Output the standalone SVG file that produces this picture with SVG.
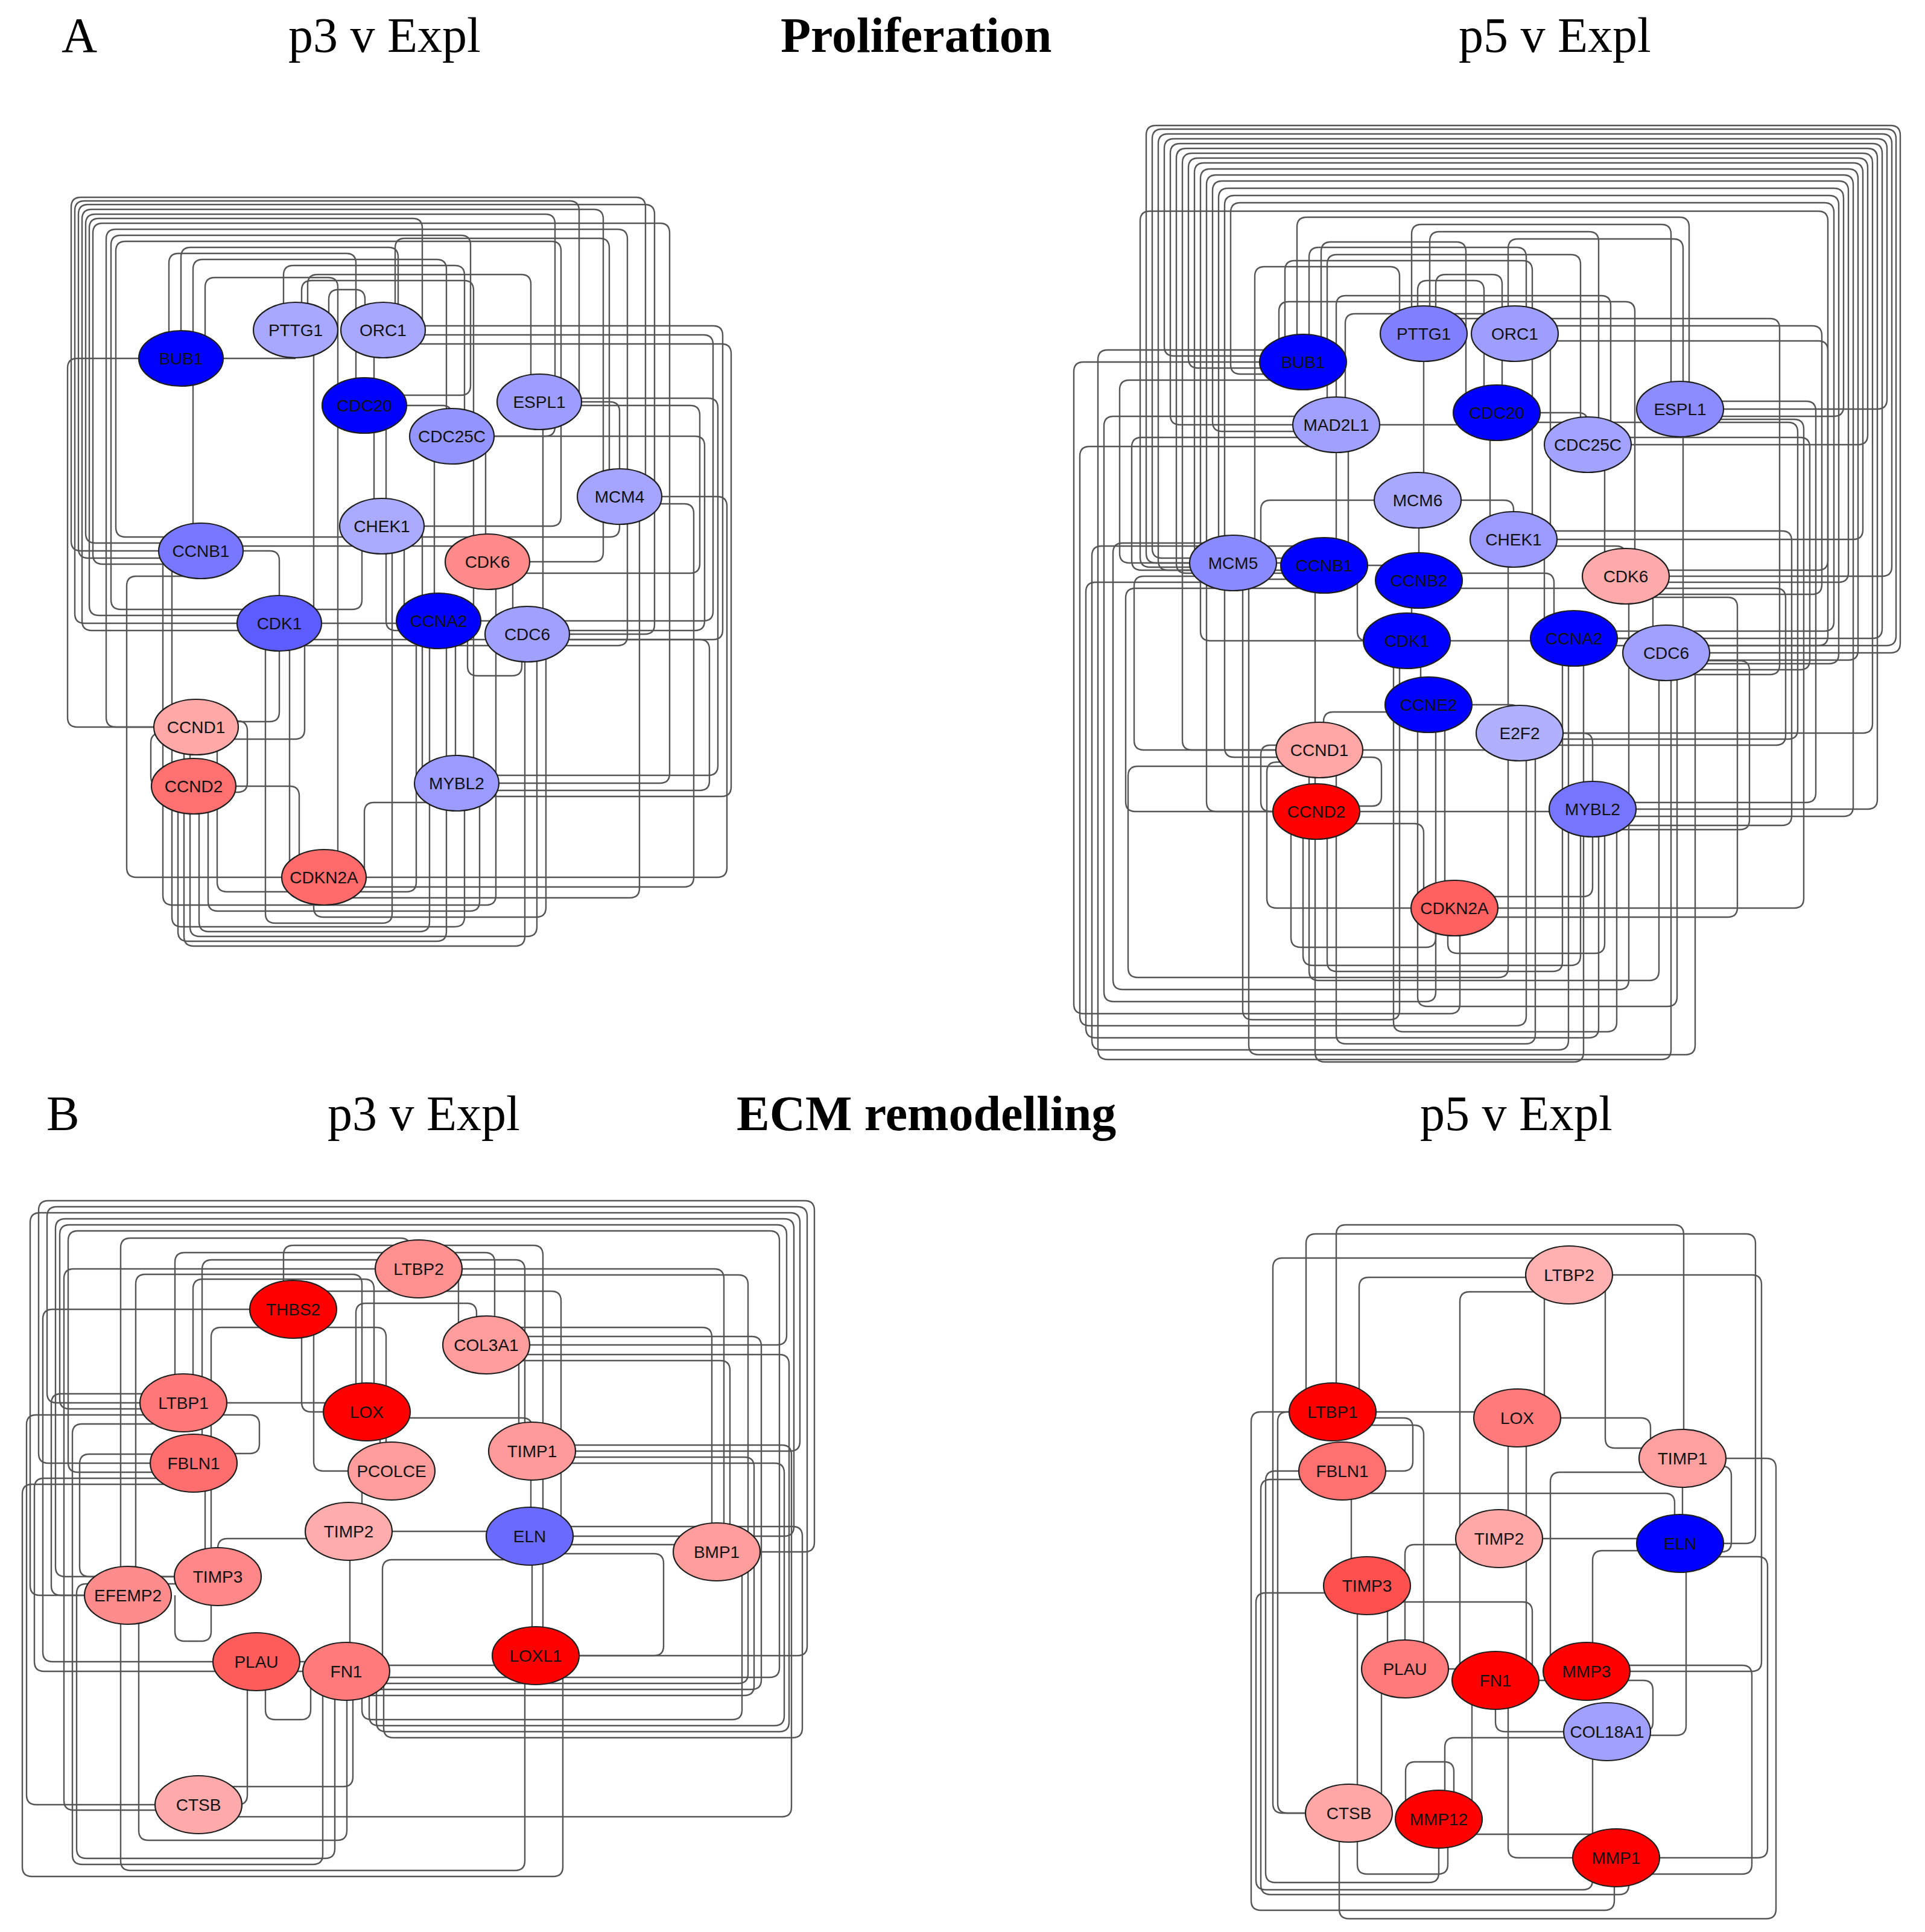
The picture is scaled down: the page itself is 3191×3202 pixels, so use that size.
<svg xmlns="http://www.w3.org/2000/svg" width="3191" height="3202" viewBox="0 0 3191 3202">
<style>
.bg{fill:#ffffff}
.ttl{font-family:"Liberation Serif","Times New Roman",serif;font-size:82px;fill:#000}
.b{font-weight:bold}
.c path{fill:none;stroke:#555;stroke-width:2.4}
.n ellipse{stroke:#1e1e1e;stroke-width:2.2}
.n text{font-family:"Liberation Sans",Arial,sans-serif;font-size:28px;text-anchor:middle;fill:#111}
</style>
<rect class="bg" x="0" y="0" width="3191" height="3202"/>
<g id="titles">
<text class="ttl" x="102" y="86">A</text>
<text class="ttl" x="478" y="86">p3 v Expl</text>
<text class="ttl b" x="1294" y="86">Proliferation</text>
<text class="ttl" x="2418" y="86">p5 v Expl</text>
<text class="ttl" x="77" y="1873">B</text>
<text class="ttl" x="543" y="1873">p3 v Expl</text>
<text class="ttl b" x="1221" y="1873">ECM remodelling</text>
<text class="ttl" x="2354" y="1873">p5 v Expl</text>
</g>
<g id="connectors" class="c">
<g id="edges-prolif-p3">
<path d="M333 913H134q-16 0-16-16V343q0-16 16-16H1054q16 0 16 16V807q0 16-16 16H1027"/>
<path d="M463 1033H140q-16 0-16-16V349q0-16 16-16H944q16 0 16 16V650q0 16-16 16H894"/>
<path d="M333 925H146q-16 0-16-16V355q0-16 16-16H1069q16 0 16 16V1035q0 16-16 16H874"/>
<path d="M463 1045H152q-16 0-16-16V363q0-16 16-16H984q16 0 16 16V915q0 16-16 16H808"/>
<path d="M333 900H158q-16 0-16-16V371q0-16 16-16H904q16 0 16 16V707q0 16-16 16H749"/>
<path d="M463 1020H164q-16 0-16-16V378q0-16 16-16H684q16 0 16 16V531q0 16-16 16H635"/>
<path d="M333 935H170q-16 0-16-16V386q0-16 16-16H1094q16 0 16 16V1282q0 16-16 16H757"/>
<path d="M325 1205H192q-16 0-16-16V396q0-16 16-16H1024q16 0 16 16V1054q0 16-16 16H874"/>
<path d="M463 1010H200q-16 0-16-16V406q0-16 16-16H764q16 0 16 16V639q0 16-16 16H604"/>
<path d="M333 890H208q-16 0-16-16V416q0-16 16-16H914q16 0 16 16V856q0 16-16 16H633"/>
<path d="M300 594V426q0-16 16-16H644q16 0 16 16V547"/>
<path d="M280 594V436q0-16 16-16H574q16 0 16 16V672"/>
<path d="M320 594V446q0-16 16-16H724q16 0 16 16V723"/>
<path d="M470 547V456q0-16 16-16H754q16 0 16 16V723"/>
<path d="M510 547V471q0-16 16-16H864q16 0 16 16V666"/>
<path d="M545 547V496q0-16 16-16H589q16 0 16 16V547"/>
<path d="M655 547V411q0-16 16-16H994q16 0 16 16V823"/>
<path d="M340 594V476q0-16 16-16H544q16 0 16 16V1454"/>
<path d="M500 547V481q0-16 16-16H769q16 0 16 16V1298"/>
<path d="M635 540H1182q16 0 16 16V1044q0 16-16 16H874"/>
<path d="M894 660H1174q16 0 16 16V1269q0 16-16 16H757"/>
<path d="M635 555H1166q16 0 16 16V1013q0 16-16 16H727"/>
<path d="M635 570H1196q16 0 16 16V1304q0 16-16 16H757"/>
<path d="M1027 823H1189q16 0 16 16V1438q0 16-16 16H537"/>
<path d="M749 723H1152q16 0 16 16V1029q0 16-16 16H874"/>
<path d="M894 672H1144q16 0 16 16V934q0 16-16 16H808"/>
<path d="M463 1060H1160q16 0 16 16V1294q0 16-16 16H757"/>
<path d="M1027 835H1134q16 0 16 16V1454q0 16-16 16H537"/>
<path d="M300 594H128q-16 0-16 16V1189q0 16 16 16H325"/>
<path d="M333 955H226q-16 0-16 16V1438q0 16 16 16H537"/>
<path d="M325 1215H266q-16 0-16 16V1287q0 16 16 16H321"/>
<path d="M305 1205V1552q0 16 16 16H854q16 0 16-16V1051"/>
<path d="M295 1303V1544q0 16 16 16H724q16 0 16-16V1029"/>
<path d="M315 1205V1536q0 16 16 16H874q16 0 16-16V1051"/>
<path d="M330 1303V1528q0 16 16 16H696q16 0 16-16V1029"/>
<path d="M285 913V1520q0 16 16 16H754q16 0 16-16V1298"/>
<path d="M520 1454V1504q0 16 16 16H889q16 0 16-16V1051"/>
<path d="M345 1303V1494q0 16 16 16H779q16 0 16-16V1298"/>
<path d="M440 1033V1514q0 16 16 16H634q16 0 16-16V872"/>
<path d="M270 913V1484q0 16 16 16H806q16 0 16-16V931"/>
<path d="M480 1033V1472q0 16 16 16H1044q16 0 16-16V823"/>
<path d="M360 1205V1462q0 16 16 16H674q16 0 16-16V1029"/>
<path d="M463 1033H727"/>
<path d="M333 913H447q16 0 16 16V1033"/>
<path d="M325 1195H394q16 0 16 16V1297q0 16-16 16H321"/>
<path d="M604 672H733q16 0 16 16V723"/>
<path d="M620 547V872"/>
<path d="M805 723V931"/>
<path d="M850 931V1051"/>
<path d="M755 1029V1298"/>
<path d="M670 872V1013q0 16 16 16H727"/>
<path d="M321 1303H480q16 0 16 16V1438q0 16 16 16H537"/>
<path d="M757 1330H620q-16 0-16 16V1454"/>
<path d="M463 1033V1180q0 16-16 16H325"/>
<path d="M505 1033V1209q0 16-16 16H325"/>
<path d="M320 594V913"/>
<path d="M520 547V1033"/>
<path d="M300 594H490"/>
<path d="M333 905H808"/>
<path d="M463 1070H874"/>
<path d="M775 1029V1104q0 16 16 16H849q16 0 16-16V1051"/>
<path d="M333 890H1011q16 0 16-16V823"/>
<path d="M600 872V994q0 16-16 16H463"/>
<path d="M894 666H1011q16 0 16 16V823"/>
<path d="M640 672V1029q0 16 16 16H727"/>
<path d="M900 666V1051"/>
<path d="M700 872V1282q0 16 16 16H757"/>
<path d="M720 723V1029"/>
</g>
<g id="edges-prolif-p5">
<path d="M2044 933H1916q-16 0-16-16V224q0-16 16-16H3134q16 0 16 16V1066q0 16-16 16H2762"/>
<path d="M2195 925H1926q-16 0-16-16V230q0-16 16-16H3127q16 0 16 16V1054q0 16-16 16H2762"/>
<path d="M2044 945H1936q-16 0-16-16V238q0-16 16-16H3120q16 0 16 16V939q0 16-16 16H2695"/>
<path d="M2160 590H1946q-16 0-16-16V246q0-16 16-16H3112q16 0 16 16V662q0 16-16 16H2785"/>
<path d="M2215 704H1956q-16 0-16-16V254q0-16 16-16H3104q16 0 16 16V1042q0 16-16 16H2609"/>
<path d="M2195 950H1966q-16 0-16-16V262q0-16 16-16H3096q16 0 16 16V1325q0 16-16 16H2640"/>
<path d="M2187 1243H1976q-16 0-16-16V270q0-16 16-16H3088q16 0 16 16V1199q0 16-16 16H2519"/>
<path d="M2160 610H1986q-16 0-16-16V278q0-16 16-16H3080q16 0 16 16V721q0 16-16 16H2632"/>
<path d="M2044 921H1996q-16 0-16-16V286q0-16 16-16H3072q16 0 16 16V878q0 16-16 16H2509"/>
<path d="M2332 1062H2006q-16 0-16-16V296q0-16 16-16H3064q16 0 16 16V1078q0 16-16 16H2762"/>
<path d="M2182 1345H2016q-16 0-16-16V306q0-16 16-16H3056q16 0 16 16V1337q0 16-16 16H2640"/>
<path d="M2215 715H2026q-16 0-16-16V316q0-16 16-16H3048q16 0 16 16V949q0 16-16 16H2695"/>
<path d="M2195 960H2036q-16 0-16-16V328q0-16 16-16H3040q16 0 16 16V674q0 16-16 16H2785"/>
<path d="M2187 1255H2046q-16 0-16-16V340q0-16 16-16H3032q16 0 16 16V1084q0 16-16 16H2762"/>
<path d="M2160 620H2056q-16 0-16-16V352q0-16 16-16H3024q16 0 16 16V1030q0 16-16 16H2609"/>
<path d="M2044 940H1906q-16 0-16-16V366q0-16 16-16H3014q16 0 16 16V929q0 16-16 16H2695"/>
<path d="M2150 600V376q0-16 16-16H2784q16 0 16 16V678"/>
<path d="M2340 553V388q0-16 16-16H2754q16 0 16 16V678"/>
<path d="M2370 553V400q0-16 16-16H2634q16 0 16 16V737"/>
<path d="M2500 553V412q0-16 16-16H2774q16 0 16 16V1082"/>
<path d="M2190 600V417q0-16 16-16H2414q16 0 16 16V684"/>
<path d="M2170 600V426q0-16 16-16H2514q16 0 16 16V553"/>
<path d="M2200 704V438q0-16 16-16H2604q16 0 16 16V737"/>
<path d="M2380 553V471q0-16 16-16H2474q16 0 16 16V553"/>
<path d="M2350 553V481q0-16 16-16H2444q16 0 16 16V684"/>
<path d="M2130 600V448q0-16 16-16H2524q16 0 16 16V894"/>
<path d="M2080 933V458q0-16 16-16H2304q16 0 16 16V553"/>
<path d="M2215 937V506q0-16 16-16H2654q16 0 16 16V737"/>
<path d="M2120 600V516q0-16 16-16H2694q16 0 16 16V955"/>
<path d="M2230 704V536q0-16 16-16H2554q16 0 16 16V894"/>
<path d="M2160 600H1796q-16 0-16 16V1664q0 16 16 16H2404q16 0 16-16V1505"/>
<path d="M2215 740H1806q-16 0-16 16V1684q0 16 16 16H2514q16 0 16-16V1215"/>
<path d="M2044 965H1816q-16 0-16 16V1704q0 16 16 16H2634q16 0 16-16V1341"/>
<path d="M2195 905H1826q-16 0-16 16V1724q0 16 16 16H2584q16 0 16-16V1058"/>
<path d="M2160 580H1836q-16 0-16 16V1740q0 16 16 16H2754q16 0 16-16V1082"/>
<path d="M2215 690H1846q-16 0-16 16V1644q0 16 16 16H2364q16 0 16-16V1168"/>
<path d="M2044 900H1861q-16 0-16 16V1624q0 16 16 16H2684q16 0 16-16V955"/>
<path d="M2187 1270H1886q-16 0-16 16V1604q0 16 16 16H2484q16 0 16-16V894"/>
<path d="M2044 955H1896q-16 0-16 16V1227q0 16 16 16H2187"/>
<path d="M2195 975H1882q-16 0-16 16V1329q0 16 16 16H2182"/>
<path d="M2160 630H1872q-16 0-16 16V917q0 16 16 16H2044"/>
<path d="M2215 725H1892q-16 0-16 16V929q0 16 16 16H2195"/>
<path d="M2785 665H2994q16 0 16 16V1314q0 16-16 16H2640"/>
<path d="M2632 725H2984q16 0 16 16V1094q0 16-16 16H2762"/>
<path d="M2511 540H3004q16 0 16 16V969q0 16-16 16H2695"/>
<path d="M2785 695H2974q16 0 16 16V1489q0 16-16 16H2411"/>
<path d="M2481 700H2964q16 0 16 16V1209q0 16-16 16H2519"/>
<path d="M2509 880H2954q16 0 16 16V1352q0 16-16 16H2640"/>
<path d="M2695 975H2944q16 0 16 16V1219q0 16-16 16H2519"/>
<path d="M2511 565H3014q16 0 16 16V1054q0 16-16 16H2609"/>
<path d="M2360 528H2934q16 0 16 16V1102q0 16-16 16H2762"/>
<path d="M2762 1095H2884q16 0 16 16V1359q0 16-16 16H2640"/>
<path d="M2695 990H2864q16 0 16 16V1504q0 16-16 16H2411"/>
<path d="M2160 1345V1584q0 16 16 16H2604q16 0 16-16V1341"/>
<path d="M2200 1345V1594q0 16 16 16H2574q16 0 16-16V1058"/>
<path d="M2170 1243V1609q0 16 16 16H2734q16 0 16-16V1082"/>
<path d="M2350 1168V1652q0 16 16 16H2764q16 0 16-16V1082"/>
<path d="M2400 1505V1564q0 16 16 16H2644q16 0 16-16V1341"/>
<path d="M2140 1345V1554q0 16 16 16H2364q16 0 16-16V1505"/>
<path d="M2060 933V1674q0 16 16 16H2304q16 0 16-16V1062"/>
<path d="M2310 1062V1694q0 16 16 16H2664q16 0 16-16V1341"/>
<path d="M2215 1243V1714q0 16 16 16H2529q16 0 16-16V1215"/>
<path d="M2070 933V1732q0 16 16 16H2794q16 0 16-16V1082"/>
<path d="M2180 937V1744q0 16 16 16H2609q16 0 16-16V1058"/>
<path d="M2481 684H2616q16 0 16 16V737"/>
<path d="M2490 553V684"/>
<path d="M2350 829H2493q16 0 16 16V894"/>
<path d="M2195 937H2352"/>
<path d="M2340 962V1062"/>
<path d="M2355 1062V1168"/>
<path d="M2332 1062H2609"/>
<path d="M2609 1058H2762"/>
<path d="M2368 1168H2503q16 0 16 16V1215"/>
<path d="M2187 1235H2106q-16 0-16 16V1329q0 16 16 16H2182"/>
<path d="M2187 1255H2274q16 0 16 16V1320q0 16-16 16H2182"/>
<path d="M2182 1365H2344q16 0 16 16V1505"/>
<path d="M2411 1505H2116q-16 0-16-16V1279q0-16 16-16H2187"/>
<path d="M2509 905H2679q16 0 16 16V955"/>
<path d="M2660 737V955"/>
<path d="M2740 955V1082"/>
<path d="M2235 704V937"/>
<path d="M2352 829V962"/>
<path d="M2360 553V829"/>
<path d="M2044 933H2195"/>
<path d="M2250 937V1046q0 16 16 16H2332"/>
<path d="M2519 1215H2624q16 0 16 16V1341"/>
<path d="M2560 894V1058"/>
<path d="M2470 684V894"/>
<path d="M2215 704H2481"/>
<path d="M2090 933V845q0-16 16-16H2350"/>
<path d="M2368 1180H2210q-16 0-16 16V1243"/>
<path d="M2352 975H2695"/>
<path d="M2187 1243H2519"/>
<path d="M2182 1345H2640"/>
<path d="M2640 1341V1470q0 16-16 16H2411"/>
<path d="M2395 1168V1505"/>
<path d="M2352 950H2560q16 0 16 16V1058"/>
</g>
<g id="edges-ecm-p3">
<path d="M321 2425H80q-16 0-16-16V2006q0-16 16-16H1334q16 0 16 16V2556q0 16-16 16H1188"/>
<path d="M304 2325H94q-16 0-16-16V2016q0-16 16-16H1322q16 0 16 16V2728q0 16-16 16H888"/>
<path d="M212 2644H66q-16 0-16-16V2026q0-16 16-16H1310q16 0 16 16V2389q0 16-16 16H882"/>
<path d="M361 2613H108q-16 0-16-16V2036q0-16 16-16H1300q16 0 16 16V2530q0 16-16 16H878"/>
<path d="M304 2335H115q-16 0-16-16V2046q0-16 16-16H1288q16 0 16 16V2213q0 16-16 16H806"/>
<path d="M321 2440H129q-16 0-16-16V2056q0-16 16-16H1276q16 0 16 16V2764q0 16-16 16H574"/>
<path d="M200 2644V2068q0-16 16-16H664q16 0 16 16V2103"/>
<path d="M470 2170V2080q0-16 16-16H884q16 0 16 16V2744"/>
<path d="M290 2325V2092q0-16 16-16H804q16 0 16 16V2229"/>
<path d="M335 2425V2104q0-16 16-16H854q16 0 16 16V2405"/>
<path d="M320 2325V2136q0-16 16-16H604q16 0 16 16V2340"/>
<path d="M500 2170V2156q0-16 16-16H914q16 0 16 16V2546"/>
<path d="M694 2103H1184q16 0 16 16V2572"/>
<path d="M806 2200H1164q16 0 16 16V2572"/>
<path d="M590 2340V2176q0-16 16-16H774q16 0 16 16V2229"/>
<path d="M225 2644V2128q0-16 16-16H584q16 0 16 16V2340"/>
<path d="M350 2613V2216q0-16 16-16H624q16 0 16 16V2438"/>
<path d="M304 2345H60q-16 0-16 16V2975q0 16 16 16H329"/>
<path d="M321 2450H73q-16 0-16 16V2754q0 16 16 16H574"/>
<path d="M486 2170H87q-16 0-16 16V2738q0 16 16 16H425"/>
<path d="M304 2310H101q-16 0-16 16V2628q0 16 16 16H212"/>
<path d="M321 2410H148q-16 0-16 16V2597q0 16 16 16H361"/>
<path d="M694 2103H122q-16 0-16 16V2984q0 16 16 16H329"/>
<path d="M200 2644V3084q0 16 16 16H854q16 0 16-16V2744"/>
<path d="M321 2460H53q-16 0-16 16V3094q0 16 16 16H917q16 0 16-16V2744"/>
<path d="M304 2360H136q-16 0-16 16V3074q0 16 16 16H519q16 0 16-16V2770"/>
<path d="M361 2625H143q-16 0-16 16V3064q0 16 16 16H539q16 0 16-16V2770"/>
<path d="M230 2644V3034q0 16 16 16H559q16 0 16-16V2770"/>
<path d="M440 2754V2834q0 16 16 16H499q16 0 16-16V2770"/>
<path d="M806 2215H1246q16 0 16 16V2784q0 16-16 16H574"/>
<path d="M882 2415H1234q16 0 16 16V2794q0 16-16 16H574"/>
<path d="M694 2113H1224q16 0 16 16V2774q0 16-16 16H574"/>
<path d="M878 2575H1084q16 0 16 16V2728q0 16-16 16H888"/>
<path d="M882 2395H1296q16 0 16 16V2995q0 16-16 16H329"/>
<path d="M806 2255H1194q16 0 16 16V2556q0 16-16 16H1188"/>
<path d="M600 2770V2834q0 16 16 16H1214q16 0 16-16V2572"/>
<path d="M612 2770V2844q0 16 16 16H1284q16 0 16-16V2441q0-16-16-16H882"/>
<path d="M624 2770V2854q0 16 16 16H1292q16 0 16-16V2261q0-16-16-16H806"/>
<path d="M636 2770V2864q0 16 16 16H1314q16 0 16-16V2546q0-16-16-16H878"/>
<path d="M880 2405V2546"/>
<path d="M882 2546V2744"/>
<path d="M304 2345H414q16 0 16 16V2393q0 16-16 16H321"/>
<path d="M630 2340V2438"/>
<path d="M600 2438V2538"/>
<path d="M500 2170V2324q0 16 16 16H608"/>
<path d="M304 2325H608"/>
<path d="M578 2538H878"/>
<path d="M878 2560H1188"/>
<path d="M425 2754H574"/>
<path d="M410 2754V2975q0 16-16 16H329"/>
<path d="M585 2770V2945q0 16-16 16H329"/>
<path d="M290 2644V2704q0 16 16 16H334q16 0 16-16V2613"/>
<path d="M340 2425V2613"/>
<path d="M608 2350H866q16 0 16 16V2405"/>
<path d="M860 2229V2405"/>
<path d="M760 2103V2229"/>
<path d="M520 2170V2422q0 16 16 16H649"/>
<path d="M580 2538V2770"/>
<path d="M878 2585H650q-16 0-16 16V2770"/>
<path d="M574 2760H888"/>
<path d="M578 2550H377q-16 0-16 16V2613"/>
</g>
<g id="edges-ecm-p5">
<path d="M2215 2340V2046q0-16 16-16H2775q16 0 16 16V2417"/>
<path d="M2165 2340V2061q0-16 16-16H2894q16 0 16 16V2542q0 16-16 16H2785"/>
<path d="M2601 2085H2126q-16 0-16 16V2989q0 16 16 16H2236"/>
<path d="M2601 2113H2904q16 0 16 16V2754q0 16-16 16H2630"/>
<path d="M2253 2340V2133q0-16 16-16H2601"/>
<path d="M2420 2785V2157q0-16 16-16H2601"/>
<path d="M2661 2113V2384q0 16 16 16H2789"/>
<path d="M2500 2350V2550"/>
<path d="M2530 2350V2785"/>
<path d="M2209 2340H2515"/>
<path d="M2560 2113V2350"/>
<path d="M2789 2417V2558"/>
<path d="M2789 2430H2854q16 0 16 16V2556q0 16-16 16H2785"/>
<path d="M2225 2438H2114q-16 0-16 16V3104q0 16 16 16H2369q16 0 16-16V3015"/>
<path d="M2209 2340H2090q-16 0-16 16V3150q0 16 16 16H2660q16 0 16-16V3079"/>
<path d="M2250 2628V3005"/>
<path d="M2300 2628V2766"/>
<path d="M2240 2438V2628"/>
<path d="M2329 2766H2479"/>
<path d="M2479 2785H2630"/>
<path d="M2630 2785H2724q16 0 16 16V2854q0 16-16 16H2664"/>
<path d="M2479 2805V2854q0 16 16 16H2664"/>
<path d="M2500 2785V3063q0 16 16 16H2679"/>
<path d="M2440 2785V2999q0 16-16 16H2385"/>
<path d="M2330 3005V2936q0-16 16-16H2394q16 0 16 16V3015"/>
<path d="M2250 3005V3090q0 16 16 16H2384q16 0 16-16V3015"/>
<path d="M2785 2570H2656q-16 0-16 16V2770"/>
<path d="M2785 2580H2914q16 0 16 16V3063q0 16-16 16H2679"/>
<path d="M2485 2560H2345q-16 0-16 16V2766"/>
<path d="M2485 2550H2785"/>
<path d="M2789 2440H2586q-16 0-16 16V2754q0 16 16 16H2630"/>
<path d="M2515 2350H2720q16 0 16 16V2417"/>
<path d="M2209 2350H2326q16 0 16 16V2422q0 16-16 16H2225"/>
<path d="M2209 2362H2344q16 0 16 16V2766"/>
<path d="M2225 2452H2106q-16 0-16 16V3124q0 16 16 16H2684q16 0 16-16V3079"/>
<path d="M2266 2640H2098q-16 0-16 16V3116q0 16 16 16H2624q16 0 16-16V2870"/>
<path d="M2220 3005V3164q0 16 16 16H2928q16 0 16-16V2433q0-16-16-16H2789"/>
<path d="M2236 3005H2134q-16 0-16-16V2356q0-16 16-16H2209"/>
<path d="M2630 2760H2888q16 0 16 16V3090q0 16-16 16H2679"/>
<path d="M2664 2880H2411q-16 0-16 16V3015"/>
<path d="M2225 2475H2760q16 0 16 16V2558"/>
<path d="M2266 2655H2524q16 0 16 16V2785"/>
<path d="M2290 2766V3005"/>
<path d="M2385 3040H2679"/>
<path d="M2795 2558V2860q0 16-16 16H2664"/>
</g>
</g>
<g id="nodes">
<g id="p3-PTTG1" class="n"><ellipse cx="490" cy="547" rx="70" ry="46" fill="#A8A8FF"/><text x="490" y="557">PTTG1</text></g>
<g id="p3-ORC1" class="n"><ellipse cx="635" cy="547" rx="70" ry="46" fill="#A8A8FF"/><text x="635" y="557">ORC1</text></g>
<g id="p3-BUB1" class="n"><ellipse cx="300" cy="594" rx="70" ry="46" fill="#0000FF"/><text x="300" y="604">BUB1</text></g>
<g id="p3-CDC20" class="n"><ellipse cx="604" cy="672" rx="70" ry="46" fill="#0000FF"/><text x="604" y="682">CDC20</text></g>
<g id="p3-ESPL1" class="n"><ellipse cx="894" cy="666" rx="70" ry="46" fill="#9D9DFF"/><text x="894" y="676">ESPL1</text></g>
<g id="p3-CDC25C" class="n"><ellipse cx="749" cy="723" rx="70" ry="46" fill="#9494FF"/><text x="749" y="733">CDC25C</text></g>
<g id="p3-MCM4" class="n"><ellipse cx="1027" cy="823" rx="70" ry="46" fill="#A5A5FF"/><text x="1027" y="833">MCM4</text></g>
<g id="p3-CHEK1" class="n"><ellipse cx="633" cy="872" rx="70" ry="46" fill="#AAAAFF"/><text x="633" y="882">CHEK1</text></g>
<g id="p3-CCNB1" class="n"><ellipse cx="333" cy="913" rx="70" ry="46" fill="#7878FF"/><text x="333" y="923">CCNB1</text></g>
<g id="p3-CDK6" class="n"><ellipse cx="808" cy="931" rx="70" ry="46" fill="#FF8A8A"/><text x="808" y="941">CDK6</text></g>
<g id="p3-CDK1" class="n"><ellipse cx="463" cy="1033" rx="70" ry="46" fill="#5C5CFF"/><text x="463" y="1043">CDK1</text></g>
<g id="p3-CCNA2" class="n"><ellipse cx="727" cy="1029" rx="70" ry="46" fill="#0000FF"/><text x="727" y="1039">CCNA2</text></g>
<g id="p3-CDC6" class="n"><ellipse cx="874" cy="1051" rx="70" ry="46" fill="#A0A0FF"/><text x="874" y="1061">CDC6</text></g>
<g id="p3-CCND1" class="n"><ellipse cx="325" cy="1205" rx="70" ry="46" fill="#FFA8A8"/><text x="325" y="1215">CCND1</text></g>
<g id="p3-CCND2" class="n"><ellipse cx="321" cy="1303" rx="70" ry="46" fill="#FF7070"/><text x="321" y="1313">CCND2</text></g>
<g id="p3-MYBL2" class="n"><ellipse cx="757" cy="1298" rx="70" ry="46" fill="#9A9AFF"/><text x="757" y="1308">MYBL2</text></g>
<g id="p3-CDKN2A" class="n"><ellipse cx="537" cy="1454" rx="70" ry="46" fill="#FF6A6A"/><text x="537" y="1464">CDKN2A</text></g>

<g id="p5-PTTG1" class="n"><ellipse cx="2360" cy="553" rx="72" ry="46" fill="#8080FF"/><text x="2360" y="563">PTTG1</text></g>
<g id="p5-ORC1" class="n"><ellipse cx="2511" cy="553" rx="72" ry="46" fill="#9E9EFF"/><text x="2511" y="563">ORC1</text></g>
<g id="p5-BUB1" class="n"><ellipse cx="2160" cy="600" rx="72" ry="46" fill="#0000FF"/><text x="2160" y="610">BUB1</text></g>
<g id="p5-MAD2L1" class="n"><ellipse cx="2215" cy="704" rx="72" ry="46" fill="#A0A0FF"/><text x="2215" y="714">MAD2L1</text></g>
<g id="p5-CDC20" class="n"><ellipse cx="2481" cy="684" rx="72" ry="46" fill="#0000FF"/><text x="2481" y="694">CDC20</text></g>
<g id="p5-ESPL1" class="n"><ellipse cx="2785" cy="678" rx="72" ry="46" fill="#8C8CFF"/><text x="2785" y="688">ESPL1</text></g>
<g id="p5-CDC25C" class="n"><ellipse cx="2632" cy="737" rx="72" ry="46" fill="#A2A2FF"/><text x="2632" y="747">CDC25C</text></g>
<g id="p5-MCM6" class="n"><ellipse cx="2350" cy="829" rx="72" ry="46" fill="#A8A8FF"/><text x="2350" y="839">MCM6</text></g>
<g id="p5-CHEK1" class="n"><ellipse cx="2509" cy="894" rx="72" ry="46" fill="#9A9AFF"/><text x="2509" y="904">CHEK1</text></g>
<g id="p5-MCM5" class="n"><ellipse cx="2044" cy="933" rx="72" ry="46" fill="#8A8AFF"/><text x="2044" y="943">MCM5</text></g>
<g id="p5-CCNB1" class="n"><ellipse cx="2195" cy="937" rx="72" ry="46" fill="#0000FF"/><text x="2195" y="947">CCNB1</text></g>
<g id="p5-CCNB2" class="n"><ellipse cx="2352" cy="962" rx="72" ry="46" fill="#0000FF"/><text x="2352" y="972">CCNB2</text></g>
<g id="p5-CDK6" class="n"><ellipse cx="2695" cy="955" rx="72" ry="46" fill="#FFAAAA"/><text x="2695" y="965">CDK6</text></g>
<g id="p5-CDK1" class="n"><ellipse cx="2332" cy="1062" rx="72" ry="46" fill="#0000FF"/><text x="2332" y="1072">CDK1</text></g>
<g id="p5-CCNA2" class="n"><ellipse cx="2609" cy="1058" rx="72" ry="46" fill="#0000FF"/><text x="2609" y="1068">CCNA2</text></g>
<g id="p5-CDC6" class="n"><ellipse cx="2762" cy="1082" rx="72" ry="46" fill="#A0A0FF"/><text x="2762" y="1092">CDC6</text></g>
<g id="p5-CCNE2" class="n"><ellipse cx="2368" cy="1168" rx="72" ry="46" fill="#0000FF"/><text x="2368" y="1178">CCNE2</text></g>
<g id="p5-E2F2" class="n"><ellipse cx="2519" cy="1215" rx="72" ry="46" fill="#B0B0FF"/><text x="2519" y="1225">E2F2</text></g>
<g id="p5-CCND1" class="n"><ellipse cx="2187" cy="1243" rx="72" ry="46" fill="#FFA6A6"/><text x="2187" y="1253">CCND1</text></g>
<g id="p5-CCND2" class="n"><ellipse cx="2182" cy="1345" rx="72" ry="46" fill="#FF0000"/><text x="2182" y="1355">CCND2</text></g>
<g id="p5-MYBL2" class="n"><ellipse cx="2640" cy="1341" rx="72" ry="46" fill="#7575FF"/><text x="2640" y="1351">MYBL2</text></g>
<g id="p5-CDKN2A" class="n"><ellipse cx="2411" cy="1505" rx="72" ry="46" fill="#FF6060"/><text x="2411" y="1515">CDKN2A</text></g>

<g id="ecm3-LTBP2" class="n"><ellipse cx="694" cy="2103" rx="72" ry="48" fill="#FF9090"/><text x="694" y="2113">LTBP2</text></g>
<g id="ecm3-THBS2" class="n"><ellipse cx="486" cy="2170" rx="72" ry="48" fill="#FF0000"/><text x="486" y="2180">THBS2</text></g>
<g id="ecm3-COL3A1" class="n"><ellipse cx="806" cy="2229" rx="72" ry="48" fill="#FF9C9C"/><text x="806" y="2239">COL3A1</text></g>
<g id="ecm3-LTBP1" class="n"><ellipse cx="304" cy="2325" rx="72" ry="48" fill="#FF7878"/><text x="304" y="2335">LTBP1</text></g>
<g id="ecm3-LOX" class="n"><ellipse cx="608" cy="2340" rx="72" ry="48" fill="#FF0000"/><text x="608" y="2350">LOX</text></g>
<g id="ecm3-TIMP1" class="n"><ellipse cx="882" cy="2405" rx="72" ry="48" fill="#FF9A9A"/><text x="882" y="2415">TIMP1</text></g>
<g id="ecm3-FBLN1" class="n"><ellipse cx="321" cy="2425" rx="72" ry="48" fill="#FF6E6E"/><text x="321" y="2435">FBLN1</text></g>
<g id="ecm3-PCOLCE" class="n"><ellipse cx="649" cy="2438" rx="72" ry="48" fill="#FF9C9C"/><text x="649" y="2448">PCOLCE</text></g>
<g id="ecm3-TIMP2" class="n"><ellipse cx="578" cy="2538" rx="72" ry="48" fill="#FFACAC"/><text x="578" y="2548">TIMP2</text></g>
<g id="ecm3-ELN" class="n"><ellipse cx="878" cy="2546" rx="72" ry="48" fill="#6A6AFF"/><text x="878" y="2556">ELN</text></g>
<g id="ecm3-BMP1" class="n"><ellipse cx="1188" cy="2572" rx="72" ry="48" fill="#FF9C9C"/><text x="1188" y="2582">BMP1</text></g>
<g id="ecm3-TIMP3" class="n"><ellipse cx="361" cy="2613" rx="72" ry="48" fill="#FF8787"/><text x="361" y="2623">TIMP3</text></g>
<g id="ecm3-EFEMP2" class="n"><ellipse cx="212" cy="2644" rx="72" ry="48" fill="#FF8C8C"/><text x="212" y="2654">EFEMP2</text></g>
<g id="ecm3-PLAU" class="n"><ellipse cx="425" cy="2754" rx="72" ry="48" fill="#FF5C5C"/><text x="425" y="2764">PLAU</text></g>
<g id="ecm3-FN1" class="n"><ellipse cx="574" cy="2770" rx="72" ry="48" fill="#FF7A7A"/><text x="574" y="2780">FN1</text></g>
<g id="ecm3-LOXL1" class="n"><ellipse cx="888" cy="2744" rx="72" ry="48" fill="#FF0000"/><text x="888" y="2754">LOXL1</text></g>
<g id="ecm3-CTSB" class="n"><ellipse cx="329" cy="2991" rx="72" ry="48" fill="#FFAAAA"/><text x="329" y="3001">CTSB</text></g>

<g id="ecm5-LTBP2" class="n"><ellipse cx="2601" cy="2113" rx="72" ry="48" fill="#FFB0B0"/><text x="2601" y="2123">LTBP2</text></g>
<g id="ecm5-LTBP1" class="n"><ellipse cx="2209" cy="2340" rx="72" ry="48" fill="#FF0000"/><text x="2209" y="2350">LTBP1</text></g>
<g id="ecm5-LOX" class="n"><ellipse cx="2515" cy="2350" rx="72" ry="48" fill="#FF7A7A"/><text x="2515" y="2360">LOX</text></g>
<g id="ecm5-TIMP1" class="n"><ellipse cx="2789" cy="2417" rx="72" ry="48" fill="#FFA0A0"/><text x="2789" y="2427">TIMP1</text></g>
<g id="ecm5-FBLN1" class="n"><ellipse cx="2225" cy="2438" rx="72" ry="48" fill="#FF7070"/><text x="2225" y="2448">FBLN1</text></g>
<g id="ecm5-TIMP2" class="n"><ellipse cx="2485" cy="2550" rx="72" ry="48" fill="#FFA8A8"/><text x="2485" y="2560">TIMP2</text></g>
<g id="ecm5-ELN" class="n"><ellipse cx="2785" cy="2558" rx="72" ry="48" fill="#0000FF"/><text x="2785" y="2568">ELN</text></g>
<g id="ecm5-TIMP3" class="n"><ellipse cx="2266" cy="2628" rx="72" ry="48" fill="#FF5050"/><text x="2266" y="2638">TIMP3</text></g>
<g id="ecm5-PLAU" class="n"><ellipse cx="2329" cy="2766" rx="72" ry="48" fill="#FF7A7A"/><text x="2329" y="2776">PLAU</text></g>
<g id="ecm5-FN1" class="n"><ellipse cx="2479" cy="2785" rx="72" ry="48" fill="#FF0000"/><text x="2479" y="2795">FN1</text></g>
<g id="ecm5-MMP3" class="n"><ellipse cx="2630" cy="2770" rx="72" ry="48" fill="#FF0000"/><text x="2630" y="2780">MMP3</text></g>
<g id="ecm5-COL18A1" class="n"><ellipse cx="2664" cy="2870" rx="72" ry="48" fill="#A0A0FF"/><text x="2664" y="2880">COL18A1</text></g>
<g id="ecm5-CTSB" class="n"><ellipse cx="2236" cy="3005" rx="72" ry="48" fill="#FFA6A6"/><text x="2236" y="3015">CTSB</text></g>
<g id="ecm5-MMP12" class="n"><ellipse cx="2385" cy="3015" rx="72" ry="48" fill="#FF0000"/><text x="2385" y="3025">MMP12</text></g>
<g id="ecm5-MMP1" class="n"><ellipse cx="2679" cy="3079" rx="72" ry="48" fill="#FF0000"/><text x="2679" y="3089">MMP1</text></g>
</g>
</svg>
